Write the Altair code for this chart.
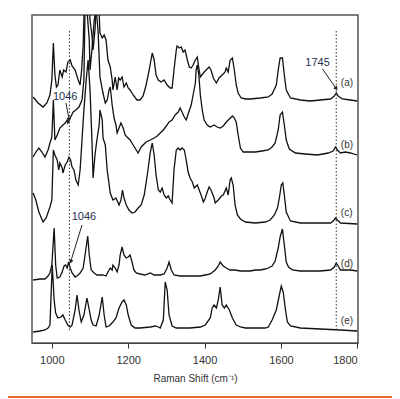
import altair as alt
import pandas as pd

# ---- spectra (wavenumber in cm-1, intensity in arbitrary offset units) ----
wn_a = [951,964,977,987,995,1000,1004,1008,1012,1016,1021,1027,1031,1037,1042,1048,1053,1061,1069,1074,1078,1082,1086,1090,1095,1100,1105,1108,1113,1117,1121,1126,1132,1137,1142,1147,1153,1158,1160,1166,1171,1175,1179,1184,1189,1195,1200,1205,1213,1223,1231,1239,1247,1255,1263,1268,1273,1279,1286,1294,1302,1310,1315,1320,1326,1328,1334,1339,1344,1349,1355,1360,1365,1370,1376,1381,1385,1389,1397,1404,1412,1417,1423,1431,1438,1446,1454,1457,1462,1467,1473,1478,1483,1488,1496,1507,1520,1546,1567,1577,1588,1593,1598,1604,1609,1614,1625,1651,1677,1703,1730,1740,1745,1750,1761,1782,1800]
int_a = [246,240,236,240,248,263,300,268,256,258,273,266,273,271,281,283,277,273,263,258,273,298,353,343,353,323,308,293,313,343,358,310,305,308,303,283,276,263,253,266,253,265,263,266,256,260,255,253,248,243,243,247,258,273,290,283,268,263,261,263,258,255,255,273,293,297,295,296,291,293,283,276,275,278,283,286,275,266,270,273,276,273,265,260,265,268,271,275,271,283,285,273,258,250,245,244,244,245,246,249,258,273,285,285,268,253,245,243,242,243,244,247,250,247,244,243,242]

wn_b = [951,958,966,974,982,990,995,1000,1004,1008,1014,1021,1029,1035,1040,1042,1048,1056,1063,1071,1079,1084,1088,1092,1098,1100,1105,1111,1116,1121,1126,1134,1140,1145,1150,1153,1158,1163,1168,1171,1176,1181,1187,1192,1197,1205,1213,1221,1226,1234,1239,1247,1258,1268,1276,1284,1292,1300,1307,1315,1323,1331,1336,1341,1347,1352,1357,1365,1370,1376,1378,1381,1385,1389,1394,1399,1407,1415,1425,1433,1441,1449,1457,1465,1473,1478,1483,1488,1494,1501,1514,1533,1551,1567,1577,1585,1593,1598,1604,1609,1614,1622,1638,1664,1696,1724,1737,1743,1748,1756,1769,1782,1800]
int_b = [186,191,195,191,186,193,200,206,243,203,208,215,218,220,223,220,225,231,233,236,243,263,363,333,303,273,293,323,333,313,266,250,240,243,253,256,238,225,218,210,215,220,215,208,206,203,198,193,190,196,198,201,203,205,207,210,213,217,221,223,228,231,235,231,226,223,229,238,248,260,273,278,268,248,233,223,218,216,218,216,215,217,221,224,227,225,221,208,195,191,191,191,192,193,196,200,213,228,231,218,203,194,190,189,188,190,192,196,193,190,191,190,188]

wn_c = [951,958,966,977,985,995,1000,1004,1008,1014,1018,1021,1027,1029,1035,1040,1045,1049,1053,1058,1063,1069,1074,1079,1084,1090,1095,1100,1105,1108,1113,1118,1124,1126,1132,1134,1140,1145,1153,1160,1168,1176,1181,1185,1189,1195,1202,1210,1218,1226,1234,1242,1250,1258,1263,1268,1273,1279,1284,1289,1294,1300,1305,1310,1315,1320,1326,1331,1336,1341,1347,1352,1357,1362,1368,1373,1381,1386,1391,1397,1402,1407,1412,1417,1425,1428,1436,1444,1449,1457,1462,1467,1470,1475,1480,1486,1494,1507,1533,1559,1572,1583,1591,1596,1601,1605,1609,1614,1625,1651,1703,1730,1737,1743,1748,1756,1800]
int_c = [150,143,131,121,125,136,143,193,188,183,173,180,175,170,178,181,186,183,176,173,163,158,173,203,233,263,283,253,203,165,188,203,218,233,223,205,198,173,150,143,145,138,143,153,145,138,133,130,131,135,138,148,168,191,200,188,168,153,151,155,148,145,147,143,140,173,193,195,193,195,193,183,171,165,161,155,158,153,148,141,145,151,156,153,145,140,143,147,148,155,148,163,165,158,138,128,124,121,120,121,123,128,135,145,158,160,148,131,122,120,120,120,122,125,123,120,119]

wn_d = [951,969,982,990,995,1000,1006,1010,1014,1021,1027,1032,1036,1040,1044,1048,1053,1061,1069,1074,1082,1087,1094,1098,1103,1111,1118,1126,1134,1142,1147,1153,1158,1160,1166,1171,1176,1179,1184,1189,1195,1200,1205,1210,1215,1221,1231,1244,1258,1268,1284,1294,1302,1307,1313,1320,1336,1362,1389,1402,1415,1428,1436,1441,1449,1457,1467,1480,1494,1507,1520,1533,1546,1559,1567,1577,1585,1593,1598,1604,1609,1614,1620,1630,1651,1677,1703,1730,1740,1745,1750,1756,1769,1782,1800]
int_d = [63,64,64,67,70,78,115,78,65,66,71,77,78,75,81,75,70,66,68,70,75,88,107,88,73,70,68,68,68,67,71,75,73,78,75,71,78,88,96,88,85,86,88,81,73,70,69,68,70,68,68,69,75,81,73,68,67,67,67,68,69,73,77,81,77,75,73,73,72,72,72,73,73,74,75,77,82,95,106,114,98,81,76,73,72,72,72,73,76,80,77,73,73,73,72]

wn_e = [951,969,982,990,995,1001,1006,1010,1016,1024,1029,1035,1042,1048,1053,1061,1066,1071,1077,1084,1092,1098,1103,1108,1116,1124,1132,1137,1142,1150,1160,1168,1176,1184,1189,1195,1200,1208,1218,1231,1258,1271,1279,1284,1292,1297,1302,1307,1315,1326,1362,1389,1402,1415,1420,1425,1431,1436,1441,1446,1452,1457,1465,1473,1483,1494,1507,1533,1559,1567,1577,1588,1596,1601,1606,1612,1617,1625,1651,1703,1756,1800]
int_e = [11,12,13,15,18,78,43,30,25,26,28,23,18,16,18,33,48,33,21,28,45,33,23,18,17,28,46,28,16,17,21,25,35,41,43,38,28,18,15,15,16,17,16,15,23,61,53,28,17,15,15,16,18,25,35,38,35,43,56,38,35,38,33,25,18,16,15,15,15,16,23,33,48,57,51,33,21,17,15,14,13,12]

trace_names = ["a", "b", "c", "d", "e"]
label_texts = ["(a)", "(b)", "(c)", "(d)", "(e)"]
label_y = [260, 198, 130, 79, 22]
label_x = 1757

marker_wn = [1046, 1745]
marker_lo, marker_hi = 13, 313

ann_text = ["1046", "1046", "1745"]
ann_x = [1035, 1084, 1696]
ann_y = [246, 126, 280]
arrow_x0 = [1037, 1079, 1709]
arrow_y0 = [240, 118, 274]
arrow_x1 = [1045, 1050, 1744]
arrow_y1 = [224, 82, 255]
arrow_ang = [170, 197, 145]

x_ticks = [1000, 1200, 1400, 1600, 1800]

# ---- tables ----
rows = []
for name, wn, it in zip(trace_names, [wn_a, wn_b, wn_c, wn_d, wn_e],
                        [int_a, int_b, int_c, int_d, int_e]):
    assert len(wn) == len(it), name
    for w, v in zip(wn, it):
        rows.append({"trace": name, "wn": w, "I": v})
spec = pd.DataFrame(rows)

labels = pd.DataFrame({"t": label_texts, "wn": [label_x] * 5, "I": label_y})
markers = pd.DataFrame({"wn": marker_wn, "lo": marker_lo, "hi": marker_hi})
ann = pd.DataFrame({"t": ann_text, "wn": ann_x, "I": ann_y})
arr_rows = []
for i in range(len(arrow_x0)):
    arr_rows.append({"k": i, "o": 0, "wn": arrow_x0[i], "I": arrow_y0[i]})
    arr_rows.append({"k": i, "o": 1, "wn": arrow_x1[i], "I": arrow_y1[i]})
arrows = pd.DataFrame(arr_rows)
heads = pd.DataFrame({"wn": arrow_x1, "I": arrow_y1, "ang": arrow_ang})

FONT = "Liberation Sans"
xs = alt.Scale(domain=[948, 1802], nice=False, zero=False)
ys = alt.Scale(domain=[0, 328], nice=False, zero=False)

xaxis = alt.Axis(values=x_ticks, format="d", title="Raman Shift (cm⁻¹)",
                 labelFontSize=11, titleFontSize=10, labelFont=FONT, titleFont=FONT,
                 labelColor="#333", titleColor="#333", titleFontWeight="normal",
                 tickSize=5, tickColor="#333", domainColor="#444", grid=False,
                 labelPadding=6, titlePadding=8)

lines = alt.Chart(spec).mark_line(clip=True, color="#111", strokeWidth=1.3).encode(
    x=alt.X("wn:Q", scale=xs, axis=xaxis),
    y=alt.Y("I:Q", scale=ys, axis=None),
    detail="trace:N",
    order="wn:Q",
)

dots = alt.Chart(markers).mark_rule(color="#333", strokeDash=[1.5, 2], strokeWidth=1).encode(
    x=alt.X("wn:Q", scale=xs), y=alt.Y("lo:Q", scale=ys), y2="hi:Q"
)

lab = alt.Chart(labels).mark_text(font=FONT, fontSize=10, color="#333", align="left").encode(
    x=alt.X("wn:Q", scale=xs), y=alt.Y("I:Q", scale=ys), text="t:N"
)

anntext = alt.Chart(ann).mark_text(font=FONT, fontSize=11, color="#263050").encode(
    x=alt.X("wn:Q", scale=xs), y=alt.Y("I:Q", scale=ys), text="t:N"
)

arrowlines = alt.Chart(arrows).mark_line(color="#222", strokeWidth=1).encode(
    x=alt.X("wn:Q", scale=xs), y=alt.Y("I:Q", scale=ys), detail="k:N", order="o:Q"
)

arrowheads = alt.Chart(heads).mark_point(shape="triangle", filled=True, size=22,
                                         color="#222", opacity=1).encode(
    x=alt.X("wn:Q", scale=xs), y=alt.Y("I:Q", scale=ys),
    angle=alt.Angle("ang:Q", scale=None)
)

orange = alt.Chart(pd.DataFrame({"z": [0]})).mark_rule(color="#ee6a2c", strokeWidth=2).encode(
    x=alt.value(-24), x2=alt.value(360), y=alt.value(382)
)

chart = alt.layer(lines, dots, lab, anntext, arrowlines, arrowheads, orange).properties(
    width=326, height=328,
    autosize=alt.AutoSizeParams(type="none"),
    padding={"left": 24, "top": 7, "right": 34, "bottom": 56},
    background="white",
).configure_view(stroke="#555", strokeWidth=1.5)

chart.save("out.html", embed_options={"renderer": "svg", "actions": False})
